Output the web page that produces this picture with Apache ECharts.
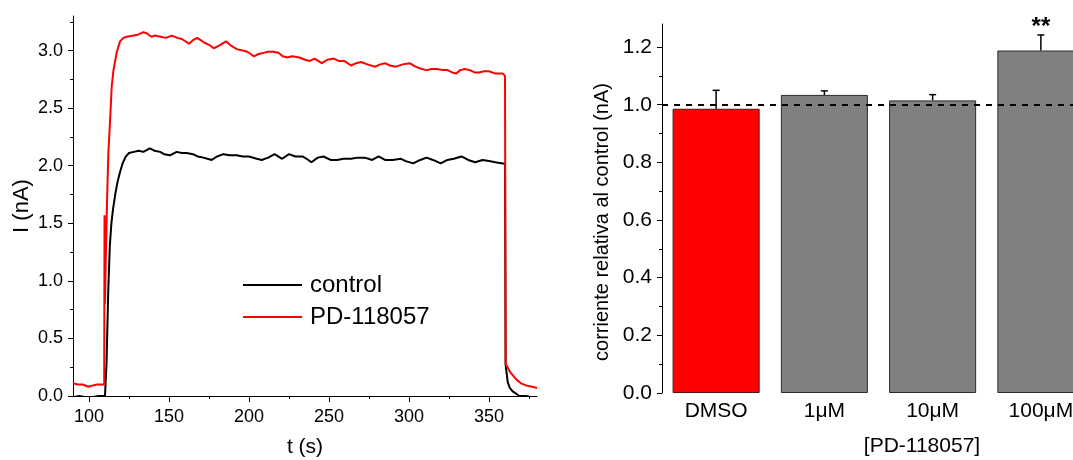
<!DOCTYPE html>
<html><head><meta charset="utf-8">
<script src="https://cdn.jsdelivr.net/npm/echarts@6/dist/echarts.min.js"></script>
<style>html,body{margin:0;padding:0;background:#fff}#c{width:1073px;height:460px}</style>
</head><body><div id="c"></div>
<script>
// ---- Left panel: current traces ----
const controlTime = [90,94,98,102,106,110,111,112,113,114,115,116.5,118,119.5,121,123,125,128,131,134,138,141,144.4,147,150.6,154.8,158,161,165,168,171.5,174,176.7,180,184,188,192.3,196,200,204.8,208,212,216,220.7,225,229,233.6,236,239,243,246.5,251,255,259,263.8,268,272.4,277,281,285,289.7,295,298,302.6,307,311,315,319.8,324,328,332.8,337,341.4,346,350,354,358.6,360,360.4,361.7,363,364.8,367,369,373,377,380];
const controlCurrent = [-0.01,0.0,-0.01,-0.01,0.0,0.0,0.3,0.9,1.3,1.5,1.62,1.76,1.87,1.95,2.02,2.08,2.11,2.12,2.13,2.12,2.15,2.13,2.12,2.10,2.09,2.12,2.11,2.11,2.10,2.08,2.07,2.06,2.05,2.08,2.10,2.09,2.09,2.08,2.08,2.06,2.05,2.07,2.10,2.06,2.10,2.08,2.08,2.06,2.03,2.07,2.08,2.05,2.05,2.06,2.06,2.07,2.07,2.05,2.08,2.05,2.05,2.06,2.04,2.02,2.05,2.07,2.05,2.02,2.05,2.06,2.08,2.05,2.03,2.05,2.04,2.03,2.02,2.02,0.27,0.12,0.07,0.04,0.02,0.0,0.0,-0.01,-0.01];
const pdTime = [90,93,96,99.6,102,105,109.5,109.7,110,110.5,111.2,112.1,113.2,114.2,115.3,117.4,119.4,121.5,123.6,128,131,134,136,139,141,144.8,148,151.7,155.2,158,162.5,165,167.7,171.9,175,178,181,185.6,189,192.7,196,199,203,206,209,212,215,218.5,221,224,227,231.5,235,238,241,245.5,249,253,256,259.5,263.8,267,270,274,279,282,285,288,291.8,296,300.4,304,308,311,314,317.7,321,324,327,329.5,332,334.9,338,341,343.5,347,350,354,358.6,360,360.4,363.1,367.3,370,373.5,377,380];
const pdCurrent = [0.11,0.10,0.10,0.08,0.09,0.10,0.10,1.57,0.8,1.2,1.65,2.11,2.40,2.69,2.83,2.99,3.08,3.11,3.12,3.13,3.14,3.16,3.15,3.12,3.13,3.12,3.11,3.13,3.11,3.10,3.06,3.09,3.11,3.07,3.05,3.02,3.04,3.08,3.04,3.01,3.00,2.99,2.95,2.97,2.98,2.99,2.99,2.98,2.95,2.94,2.95,2.94,2.92,2.91,2.93,2.89,2.92,2.93,2.91,2.91,2.87,2.89,2.90,2.88,2.86,2.88,2.89,2.87,2.86,2.88,2.89,2.86,2.84,2.83,2.84,2.84,2.83,2.83,2.81,2.80,2.83,2.84,2.83,2.81,2.81,2.82,2.82,2.80,2.80,2.78,0.28,0.21,0.14,0.11,0.09,0.08,0.07];
const traceNames = ['control', 'PD-118057'];
const traceXTicks = [100,150,200,250,300,350];
const traceXMinorTicks = [125,175,225,275,325,375];
const traceYTicks = [0,0.5,1.0,1.5,2.0,2.5,3.0];
const traceYMinorTicks = [0.25,0.75,1.25,1.75,2.25,2.75,3.25];

// ---- Right panel: relative current bars ----
const barCategories = ['DMSO','1\u03bcM','10\u03bcM','100\u03bcM'];
const barValues = [0.986,1.034,1.015,1.188];
const barErrors = [0.064,0.014,0.020,0.054];
const barSignif = ['','','','**'];
const barYTicks = [0,0.2,0.4,0.6,0.8,1.0,1.2];
const barYMinorTicks = [0.1,0.3,0.5,0.7,0.9,1.1];
const referenceLevel = 1.0;

const FONT = '"Liberation Sans", Arial, sans-serif';
const zip = (a, b) => a.map((v, i) => [v, b[i]]);

const chart = echarts.init(document.getElementById('c'), null, {renderer: 'canvas'});
const axisLineStyle = {color: '#000', width: 1};

chart.setOption({
  animation: false,
  backgroundColor: '#fff',
  textStyle: {fontFamily: FONT, color: '#000'},
  grid: [
    {left: 73, top: 16, width: 464, height: 380, outerBoundsMode: 'none', containLabel: false},
    {left: 662, top: 24, width: 433, height: 369, outerBoundsMode: 'none', containLabel: false}
  ],
  legend: {
    data: traceNames,
    orient: 'vertical',
    left: 238, top: 268,
    itemWidth: 59, itemHeight: 2, itemGap: 8,
    icon: 'rect',
    textStyle: {fontSize: 24, color: '#000', fontFamily: FONT, padding: [0,0,0,3]}
  },
  xAxis: [
    {type: 'value', gridIndex: 0, min: 90, max: 380, position: 'bottom',
     name: 't (s)', nameLocation: 'middle', nameGap: 41,
     nameTextStyle: {fontSize: 21, color: '#000', fontFamily: FONT},
     axisLine: {show: true, onZero: false, lineStyle: axisLineStyle},
     axisTick: {show: true, length: 6, customValues: traceXTicks, lineStyle: axisLineStyle},
     axisLabel: {customValues: traceXTicks, fontSize: 18, color: '#000', margin: 12, fontFamily: FONT},
     splitLine: {show: false}},
    {type: 'value', gridIndex: 0, min: 90, max: 380, position: 'bottom',
     axisLine: {show: false},
     axisTick: {show: true, length: 3, customValues: traceXMinorTicks, lineStyle: axisLineStyle},
     axisLabel: {show: false}, splitLine: {show: false}},
    {type: 'category', gridIndex: 1, data: barCategories, position: 'bottom',
     axisLine: {show: false}, axisTick: {show: false},
     axisLabel: {fontSize: 21, color: '#000', margin: 8, fontFamily: FONT},
     splitLine: {show: false}}
  ],
  yAxis: [
    {type: 'value', gridIndex: 0, min: 0, max: 3.3, position: 'left',
     name: 'I (nA)', nameLocation: 'middle', nameGap: 40,
     nameTextStyle: {fontSize: 22, color: '#000', fontFamily: FONT},
     axisLine: {show: true, onZero: false, lineStyle: axisLineStyle},
     axisTick: {show: true, length: 5, customValues: traceYTicks, lineStyle: axisLineStyle},
     axisLabel: {customValues: traceYTicks, fontSize: 18, color: '#000', margin: 10, fontFamily: FONT,
                 formatter: v => v.toFixed(1)},
     splitLine: {show: false}},
    {type: 'value', gridIndex: 0, min: 0, max: 3.3, position: 'left',
     axisLine: {show: false},
     axisTick: {show: true, length: 3, customValues: traceYMinorTicks, lineStyle: axisLineStyle},
     axisLabel: {show: false}, splitLine: {show: false}},
    {type: 'value', gridIndex: 1, min: 0, max: 1.28, position: 'left',
     axisLine: {show: true, onZero: false, lineStyle: axisLineStyle},
     axisTick: {show: true, length: 5, customValues: barYTicks, lineStyle: axisLineStyle},
     axisLabel: {customValues: barYTicks, fontSize: 21, color: '#000', margin: 10, fontFamily: FONT,
                 formatter: v => v.toFixed(1)},
     splitLine: {show: false}},
    {type: 'value', gridIndex: 1, min: 0, max: 1.28, position: 'left',
     axisLine: {show: false},
     axisTick: {show: true, length: 3, customValues: barYMinorTicks, lineStyle: axisLineStyle},
     axisLabel: {show: false}, splitLine: {show: false}}
  ],
  graphic: [
    {type: 'text', x: 922, y: 446, style: {text: '[PD-118057]', font: '21px ' + FONT, fill: '#000', align: 'center', verticalAlign: 'middle'}},
    {type: 'text', x: 602, y: 222, rotation: Math.PI / 2,
     style: {text: 'corriente relativa al control (nA)', font: '20px ' + FONT, fill: '#000', align: 'center', verticalAlign: 'middle'}}
  ],
  series: [
    {name: traceNames[0], type: 'line', xAxisIndex: 0, yAxisIndex: 0,
     data: zip(controlTime, controlCurrent), showSymbol: false, symbol: 'none',
     lineStyle: {color: '#000', width: 2}, itemStyle: {color: '#000'}, z: 3},
    {name: traceNames[1], type: 'line', xAxisIndex: 0, yAxisIndex: 0,
     data: zip(pdTime, pdCurrent), showSymbol: false, symbol: 'none',
     lineStyle: {color: '#ff0000', width: 2}, itemStyle: {color: '#ff0000'}, z: 4},
    {type: 'bar', xAxisIndex: 2, yAxisIndex: 2, barWidth: '80.4%',
     data: barValues.map((v, i) => ({value: v, itemStyle: {
       color: i === 0 ? '#ff0000' : '#808080',
       borderColor: i === 0 ? '#5a1010' : '#2b2b2b', borderWidth: 1}})),
     markLine: {silent: true, symbol: ['none','none'], label: {show: false},
       lineStyle: {color: '#000', type: [6,6], width: 2},
       data: [{yAxis: referenceLevel}]},
     z: 2},
    {type: 'custom', xAxisIndex: 2, yAxisIndex: 2, z: 5,
     data: barValues.map((v, i) => [i, v, barErrors[i]]),
     renderItem: (params, api) => {
       const i = api.value(0), v = api.value(1), e = api.value(2);
       const p0 = api.coord([i, v]);
       const p1 = api.coord([i, v + e]);
       const children = [
         {type: 'line', shape: {x1: p0[0], y1: p0[1], x2: p1[0], y2: p1[1]}, style: {stroke: '#000', lineWidth: 1.5}},
         {type: 'line', shape: {x1: p1[0] - 3.5, y1: p1[1], x2: p1[0] + 3.5, y2: p1[1]}, style: {stroke: '#000', lineWidth: 1.5}}
       ];
       const s = barSignif[params.dataIndex];
       if (s) {
         children.push({type: 'text', x: p1[0], y: p1[1] - 8,
           style: {text: s, font: 'bold 24px ' + FONT, fill: '#000', align: 'center', verticalAlign: 'middle'}});
       }
       return {type: 'group', children};
     }}
  ]
});
</script></body></html>
